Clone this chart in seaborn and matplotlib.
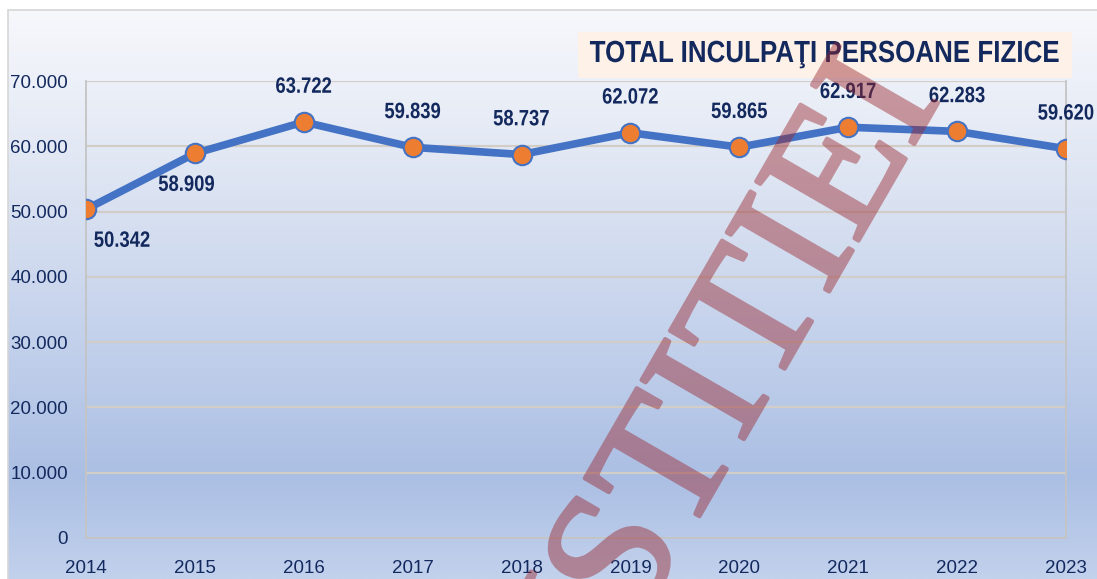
import numpy as np
import pandas as pd
import matplotlib
matplotlib.use("Agg")
import matplotlib.pyplot as plt
import matplotlib.patheffects as pe
from matplotlib.colors import LinearSegmentedColormap
from matplotlib.patches import Rectangle
from matplotlib.ticker import FuncFormatter
from matplotlib.transforms import Affine2D
import seaborn as sns

years = [2014, 2015, 2016, 2017, 2018, 2019, 2020, 2021, 2022, 2023]
inculpati = [50342, 58909, 63722, 59839, 58737, 62072, 59865, 62917, 62283, 59620]
value_labels = ["50.342", "58.909", "63.722", "59.839", "58.737",
                "62.072", "59.865", "62.917", "62.283", "59.620"]
title = "TOTAL INCULPAŢI PERSOANE FIZICE"
watermark = "JUSTITIEI"

navy = "#13295e"
wm_color = (0.6, 0.15, 0.18)


class Narrow(pe.AbstractPathEffect):
    # squeeze glyphs horizontally (no Arial Narrow installed)
    def __init__(self, sx):
        super().__init__()
        self.sx = sx

    def draw_path(self, renderer, gc, tpath, affine, rgbFace=None):
        ext = tpath.get_extents()
        cx = (ext.x0 + ext.x1) / 2
        t = Affine2D().translate(-cx, 0).scale(self.sx, 1).translate(cx, 0) + affine
        renderer.draw_path(gc, tpath, t, rgbFace)


def fade(img, dpi):
    img = img.copy()
    img[..., 3] *= 0.45
    return img, 0, 0


sns.set_style("white")
plt.rcParams["font.family"] = ["Liberation Sans", "DejaVu Sans"]

df = pd.DataFrame({"an": years, "total": inculpati})

fig = plt.figure(figsize=(10.97, 5.79), dpi=100)

# background gradient inside the grey outer frame
bg = fig.add_axes([8 / 1097, 0, 1, 1 - 10 / 579], zorder=-5)
cmap = LinearSegmentedColormap.from_list(
    "bg", [(0, "#f7f8fc"), (0.25, "#e2e8f4"), (0.55, "#c6d3ec"),
           (0.82, "#abbfe4"), (1, "#c2d1ec")])
bg.imshow(np.linspace(0, 1, 256).reshape(-1, 1), aspect="auto", cmap=cmap,
          extent=[0, 1, 0, 1], origin="upper")
bg.set_axis_off()
fig.patches.append(Rectangle((8 / 1097, -0.1), 1, 1.1 - 10 / 579, transform=fig.transFigure,
                             facecolor="none", edgecolor="#d6d6d6", lw=1.2, zorder=-4))

ax = fig.add_axes([86 / 1097, 41 / 579, 980 / 1097, 457 / 579])
ax.patch.set_alpha(0)

sns.lineplot(data=df, x="an", y="total", ax=ax, color="#4472c4", lw=5.5,
             marker="o", markersize=14, markerfacecolor="#ed7d31",
             markeredgecolor="#4472c4", markeredgewidth=1.5, zorder=3)

offsets = [(26, -23), (-6, -23)] + [(0, 25)] * 8
for x, y, lab, off in zip(years, inculpati, value_labels, offsets):
    ax.annotate(lab, (x, y), xytext=off, textcoords="offset points",
                ha="center", va="center", fontsize=16, fontweight="bold",
                color=navy, zorder=4, path_effects=[Narrow(0.83)])

ax.set_xlim(2014, 2023)
ax.set_ylim(0, 70000)
ax.set_xticks(years)
ax.set_yticks(range(0, 70001, 10000))
ax.yaxis.set_major_formatter(FuncFormatter(lambda v, p: f"{int(v):,}".replace(",", ".")))
ax.grid(axis="y", color="#d3cdc7", lw=1.6)
ax.grid(axis="x", visible=False)
ax.set_axisbelow(True)
ax.set_xlabel("")
ax.set_ylabel("")
ax.tick_params(axis="both", colors="#c0c0c0", labelcolor=navy, labelsize=13.5,
               length=5, width=1.2, direction="out")
ax.tick_params(axis="x", pad=11)
ax.tick_params(axis="y", pad=8)
for side in ["left", "right", "bottom"]:
    ax.spines[side].set_color("#c4c4c4")
    ax.spines[side].set_linewidth(1.3)
ax.spines["top"].set_visible(False)

# title on a peach box
fig.patches.append(Rectangle((578 / 1097, 1 - 78 / 579), 494 / 1097, 46 / 579,
                             transform=fig.transFigure, facecolor="#fdf1e8",
                             edgecolor="none", zorder=1))
fig.text(824 / 1097, 1 - 54 / 579, title, ha="center", va="center", fontsize=22,
         fontweight="bold", color=navy, zorder=2, path_effects=[Narrow(0.85)])

# diagonal watermark drawn over everything
wm = fig.text(535 / 1097, 1 - 801 / 579, watermark, rotation=60, rotation_mode="anchor",
              ha="left", va="baseline", fontsize=130,
              family=["Liberation Serif", "DejaVu Serif"], color=wm_color, zorder=10,
              path_effects=[pe.Stroke(linewidth=3, foreground=wm_color), pe.Normal()])
wm.set_agg_filter(fade)

fig.savefig("out.png", dpi=100)
